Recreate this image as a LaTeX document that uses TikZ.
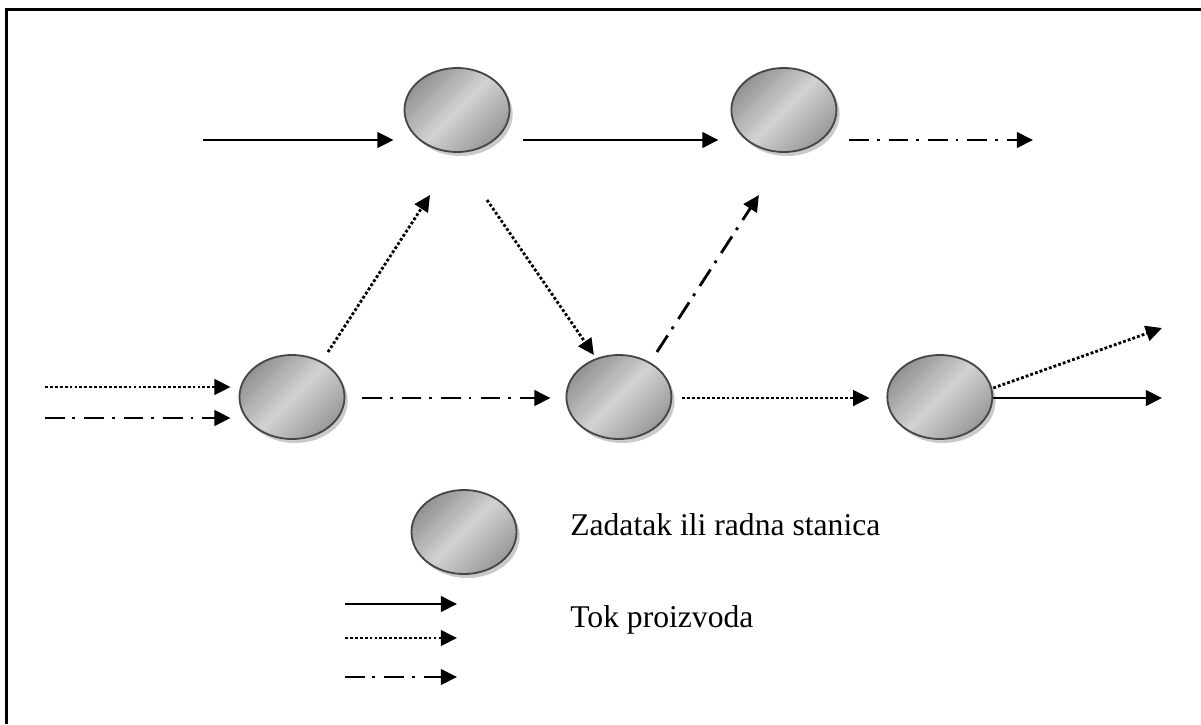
\documentclass[tikz,border=0pt]{standalone}
\usepackage{fontspec}
\setmainfont{Liberation Serif}
\usetikzlibrary{arrows.meta,shapes.geometric,positioning,shadows}

\begin{document}
\begin{tikzpicture}[x=0.025cm, y=-0.025cm, node distance = 5.5cm]
  \useasboundingbox (0,0) rectangle (1201,724);
  \tikzset{StationStyle/.style = {shape          = ellipse,
                                  minimum width  = 2.625cm,
                                  minimum height = 2.1cm,
                                  inner sep      = 0pt,
                                  draw           = gray!55!black,
                                  line width     = 1.3pt,
                                  left color     = gray!85,
                                  right color    = gray!80,
                                  middle color   = gray!35,
                                  shading angle  = 45,
                                  drop shadow    = {shadow xshift = 0.08cm,
                                                    shadow yshift = -0.1cm,
                                                    fill          = gray!70,
                                                    opacity       = 0.6}}}
  \tikzset{FlowStyle/.style    = {line width = 2pt,
                                  -{Triangle[length=11.5pt,width=11pt]}}}
  \tikzset{DotFlow/.style      = {FlowStyle,
                                  dash pattern = on 2pt off 1.5pt}}
  \tikzset{DashDotFlow/.style  = {FlowStyle,
                                  dash pattern = on 14pt off 5.5pt on 2pt off 6.5pt}}
  \tikzset{LabelStyle/.style   = {anchor    = base west,
                                  inner sep = 0pt,
                                  font      = \fontsize{22.5}{27}\selectfont}}
  % frame
  \draw[line width=2pt] (6.5,724) -- (6.5,9.5) -- (1201,9.5);
  % stations
     \node[StationStyle] (n1) at (457,110) {};
     \node[StationStyle,right=of n1] (n2) {};
     \node[StationStyle] (n3) at (292,397) {};
     \node[StationStyle,right=of n3] (n4) {};
     \node[StationStyle,right=5.35cm of n4] (n5) {};
     \node[StationStyle] (leg) at (464,532) {};
  % free ends
     \coordinate (topin)  at (203,140);
     \coordinate (topout) at (1033,140);
     \coordinate (inA)    at (45,387);
     \coordinate (inB)    at (45,418);
     \coordinate (outA)   at (1162,328);
     \coordinate (outB)   at (1162,398);
  % top row
     \draw[FlowStyle] (topin) -- ([shift={(-10,30)}]n1.west);
     \draw[FlowStyle] ([shift={(13,30)}]n1.east) -- ([shift={(-12,30)}]n2.west);
     \draw[DashDotFlow] ([shift={(12,30)}]n2.east) -- (topout);
  % diagonals
     \draw[DotFlow] ([shift={(36,-45)}]n3.center) -- ([shift={(-27,85)}]n1.center);
     \draw[DotFlow] ([shift={(30,90)}]n1.center) -- ([shift={(-25,-42)}]n4.center);
     \draw[DashDotFlow] ([shift={(38,-45)}]n4.center) -- ([shift={(-25,85)}]n2.center);
  % middle row
     \draw[DotFlow] (inA) -- ([shift={(-8,-10)}]n3.west);
     \draw[DashDotFlow] (inB) -- ([shift={(-8,21)}]n3.west);
     \draw[DashDotFlow] ([shift={(17,1)}]n3.east) -- ([shift={(-15,1)}]n4.west);
     \draw[DotFlow] ([shift={(10,1)}]n4.east) -- ([shift={(-17,1)}]n5.west);
     \draw[DotFlow] ([shift={(0,-9)}]n5.east) -- (outA);
     \draw[FlowStyle] ([shift={(0,1)}]n5.east) -- (outB);
  % legend
     \coordinate (legA1) at (345,604);
     \coordinate (legA2) at (457,604);
     \coordinate (legB1) at (345,638);
     \coordinate (legB2) at (457,638);
     \coordinate (legC1) at (345,677);
     \coordinate (legC2) at (457,677);
     \draw[FlowStyle] (legA1) -- (legA2);
     \draw[DotFlow] (legB1) -- (legB2);
     \draw[DashDotFlow] (legC1) -- (legC2);
     \node[LabelStyle] (station) at (570,535) {Zadatak ili radna stanica};
     \node[LabelStyle] (flow) at (570,627) {Tok proizvoda};
\end{tikzpicture}
\end{document}
